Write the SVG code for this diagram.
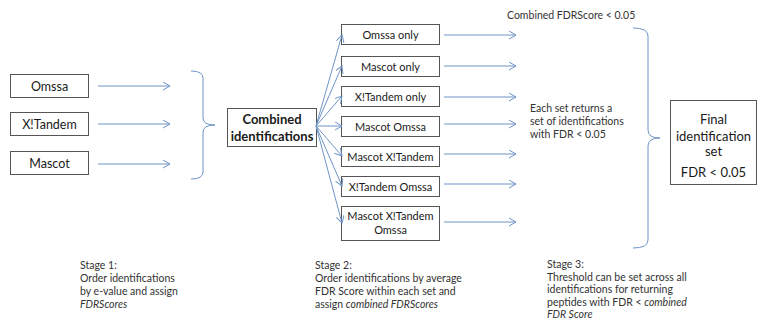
<svg xmlns="http://www.w3.org/2000/svg" width="758" height="320" viewBox="0 0 758 320">
<style>
.box{fill:#fff;stroke:#555;stroke-width:1}
.t{font-family:Lato,"Liberation Sans",sans-serif;fill:#1a1a1a;text-anchor:middle}
.l13{font-size:12.5px}
.m{font-size:11px}
.b{font-size:13px;font-weight:bold}
.f{font-size:13px}
.n{font-family:Lato,"Liberation Sans",sans-serif;font-size:10.5px;fill:#333}
.c{stroke:#6f94c8;stroke-width:1;fill:none}
.ar{marker-end:url(#ah)}
</style>
<defs>
<marker id="ah" markerUnits="userSpaceOnUse" markerWidth="10" markerHeight="10" refX="7" refY="4" orient="auto">
<path d="M0,0 L7,4 L0,8" fill="none" stroke="#6f94c8" stroke-width="1"/>
</marker>
</defs>

<g id="omssa"><rect class="box" x="10.5" y="74.5" width="78" height="23"/><text class="t l13" x="49.5" y="90.5">Omssa</text></g>
<g id="xtandem"><rect class="box" x="10.5" y="112.5" width="78" height="23"/><text class="t l13" x="49.5" y="128.5">X!Tandem</text></g>
<g id="mascot"><rect class="box" x="10.5" y="151.5" width="78" height="23"/><text class="t l13" x="49.5" y="167.5">Mascot</text></g>

<g id="combined"><rect class="box" x="227.5" y="108.5" width="89" height="38"/><text class="t b" x="272" y="124">Combined</text><text class="t b" x="272" y="140.5">identifications</text></g>

<g id="omssa-only"><rect class="box" x="341.5" y="24.5" width="98" height="20"/><text class="t m" x="390.5" y="38.5">Omssa only</text></g>
<g id="mascot-only"><rect class="box" x="341.5" y="56.5" width="98" height="20"/><text class="t m" x="390.5" y="70.5">Mascot only</text></g>
<g id="xtandem-only"><rect class="box" x="341.5" y="86.5" width="98" height="20"/><text class="t m" x="390.5" y="100.5">X!Tandem only</text></g>
<g id="mascot-omssa"><rect class="box" x="341.5" y="116.5" width="98" height="20"/><text class="t m" x="390.5" y="130.5">Mascot Omssa</text></g>
<g id="mascot-xtandem"><rect class="box" x="341.5" y="146.5" width="98" height="20"/><text class="t m" x="390.5" y="160.5">Mascot X!Tandem</text></g>
<g id="xtandem-omssa"><rect class="box" x="341.5" y="176.5" width="98" height="20"/><text class="t m" x="390.5" y="190.5">X!Tandem Omssa</text></g>
<g id="mascot-xtandem-omssa"><rect class="box" x="341.5" y="206.5" width="98" height="34"/><text class="t m" x="390.5" y="220">Mascot X!Tandem</text><text class="t m" x="390.5" y="233.5">Omssa</text></g>

<g id="final"><rect class="box" x="670.5" y="100.5" width="86" height="84"/><text class="t f" x="713.5" y="124">Final</text><text class="t f" x="713.5" y="141">identification</text><text class="t f" x="713.5" y="156">set</text><text class="t f" x="713.5" y="177">FDR &lt; 0.05</text></g>

<g id="connectors">
<line class="c ar" x1="98" y1="86" x2="170" y2="86"/>
<line class="c ar" x1="98" y1="124" x2="170" y2="124"/>
<line class="c ar" x1="98" y1="164" x2="170" y2="164"/>
<path class="c" d="M191,71 Q203,71 203,78 L203,118 Q203,125 215,125 Q203,125 203,132 L203,172 Q203,179 191,179"/>
<line class="c ar" x1="316" y1="126" x2="342" y2="35"/>
<line class="c ar" x1="316" y1="126" x2="342" y2="66"/>
<line class="c ar" x1="316" y1="126" x2="342" y2="96"/>
<line class="c ar" x1="316" y1="126" x2="342" y2="126"/>
<line class="c ar" x1="316" y1="126" x2="342" y2="156"/>
<line class="c ar" x1="316" y1="126" x2="342" y2="186"/>
<line class="c ar" x1="316" y1="126" x2="342" y2="223"/>
<line class="c ar" x1="444" y1="35" x2="516" y2="35"/>
<line class="c ar" x1="444" y1="66" x2="516" y2="66"/>
<line class="c ar" x1="444" y1="97" x2="516" y2="97"/>
<line class="c ar" x1="444" y1="124" x2="516" y2="124"/>
<line class="c ar" x1="444" y1="154" x2="516" y2="154"/>
<line class="c ar" x1="444" y1="184" x2="516" y2="184"/>
<line class="c ar" x1="444" y1="222" x2="516" y2="222"/>
<path class="c" d="M633,28 Q648,28 648,36 L648,130 Q648,138 660,138 Q648,138 648,146 L648,240 Q648,248 633,248"/>
</g>

<text class="n" x="507" y="19">Combined FDRScore &lt; 0.05</text>
<text class="n" x="530" y="112">Each set returns a</text>
<text class="n" x="530" y="125">set of identifications</text>
<text class="n" x="530" y="138">with FDR &lt; 0.05</text>

<text class="n" x="80" y="269">Stage 1:</text>
<text class="n" x="80" y="282">Order identifications</text>
<text class="n" x="80" y="295">by e-value and assign</text>
<text class="n" x="80" y="308" font-style="italic">FDRScores</text>

<text class="n" x="315" y="269">Stage 2:</text>
<text class="n" x="315" y="282">Order identifications by average</text>
<text class="n" x="315" y="295">FDR Score within each set and</text>
<text class="n" x="315" y="308">assign <tspan font-style="italic">combined FDRScores</tspan></text>

<text class="n" x="547" y="268">Stage 3:</text>
<text class="n" x="547" y="280.5">Threshold can be set across all</text>
<text class="n" x="547" y="293">identifications for returning</text>
<text class="n" x="547" y="305.5">peptides with FDR &lt; <tspan font-style="italic">combined</tspan></text>
<text class="n" x="547" y="318" font-style="italic">FDR Score</text>
</svg>
